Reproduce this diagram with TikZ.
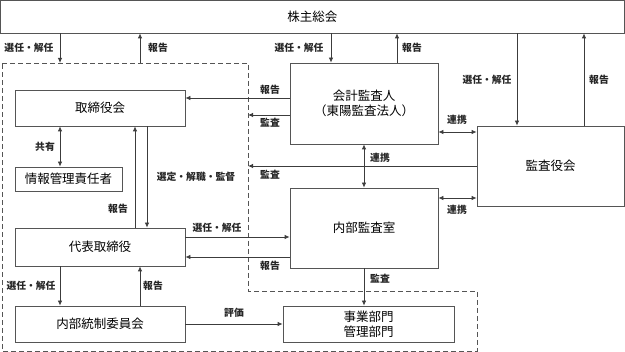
\documentclass[tikz,border=0pt]{standalone}
\usepackage{fontspec}
\setmainfont{Noto Sans CJK JP}
\usetikzlibrary{arrows.meta,positioning,calc}
\definecolor{boxline}{RGB}{85,85,85}
\definecolor{conn}{RGB}{60,60,60}

\begin{document}
\begin{tikzpicture}[x=1pt,y=-1pt,font=\fontsize{12.5}{15}\selectfont,
  b/.style={draw=boxline,line width=0.8pt,inner sep=0pt,align=center},
  arr/.style={draw=conn,line width=0.8pt,-{Latex[length=5pt,width=4.5pt]}},
  darr/.style={draw=conn,line width=0.8pt,{Latex[length=5pt,width=4.5pt]}-{Latex[length=5pt,width=4.5pt]}},
  lb/.style={font=\fontsize{9.8}{11}\selectfont\bfseries,text=black!85,inner sep=1pt}]
\useasboundingbox (0,0) rectangle (625,352);
% dashed area of the company
\coordinate (d1) at (2,63); \coordinate (d2) at (248,63); \coordinate (d3) at (248,291);
\coordinate (d4) at (477,291); \coordinate (d5) at (477,351); \coordinate (d6) at (2,351);
\draw[boxline,line width=0.8pt,dash pattern=on 5pt off 3pt] (d1) -- (d2) -- (d3) -- (d4) -- (d5) -- (d6) -- cycle;
% boxes
\node[b,minimum width=623.5pt,minimum height=32.5pt] (kabu) at (312.25,16.75) {株主総会};
\node[b,minimum width=170pt,minimum height=36pt] (tori) at (100,108) {取締役会};
\node[b,minimum width=107pt,minimum height=24pt] (joho) at (68.5,179) {情報管理責任者};
\node[b,minimum width=170pt,minimum height=38pt] (daihyo) at (100,247) {代表取締役};
\node[b,minimum width=170pt,minimum height=36pt] (tosei) at (100,324) {内部統制委員会};
\node[b,minimum width=171pt,minimum height=36pt] (jigyo) at (368.5,324) {事業部門\\管理部門};
\node[b,minimum width=148pt,minimum height=81pt] (kaikei) at (364,103.5) {会計監査人\\（東陽監査法人）};
\node[b,minimum width=147pt,minimum height=80pt] (kansa) at (550.5,166) {監査役会};
\node[b,minimum width=148pt,minimum height=80pt] (naibu) at (364,228) {内部監査室};
% columns for the vertical connectors
\coordinate (xa) at (60,0); \coordinate (xb) at (140,0); \coordinate (xc) at (135,0);
\coordinate (xd) at (147,0); \coordinate (xe) at (331,0); \coordinate (xf) at (397,0);
\coordinate (xg) at (517,0); \coordinate (xh) at (584,0); \coordinate (xi) at (364,0);
% rows for the horizontal connectors
\coordinate (ya) at (0,98); \coordinate (yb) at (0,115); \coordinate (yc) at (0,166);
\coordinate (yd) at (0,132); \coordinate (ye) at (0,198); \coordinate (yf) at (0,237);
\coordinate (yg) at (0,257);
% shareholders
\draw[arr] (kabu.south -| xa) -- (d1 -| xa);
\draw[arr] (d1 -| xb) -- (kabu.south -| xb);
\draw[arr] (kabu.south -| xe) -- (kaikei.north -| xe);
\draw[arr] (kaikei.north -| xf) -- (kabu.south -| xf);
\draw[arr] (kabu.south -| xg) -- (kansa.north -| xg);
\draw[arr] (kansa.north -| xh) -- (kabu.south -| xh);
% inside the company
\draw[darr] (tori.south -| xa) -- (joho.north -| xa);
\draw[arr] (daihyo.north -| xc) -- (tori.south -| xc);
\draw[arr] (tori.south -| xd) -- (daihyo.north -| xd);
\draw[arr] (daihyo.south -| xa) -- (tosei.north -| xa);
\draw[arr] (tosei.north -| xb) -- (daihyo.south -| xb);
\draw[arr] (daihyo.east |- yf) -- (naibu.west |- yf);
\draw[arr] (naibu.west |- yg) -- (daihyo.east |- yg);
\draw[arr] (tosei.east) -- (jigyo.west);
% audit
\draw[arr] (kaikei.west |- ya) -- (tori.east |- ya);
\draw[arr] (kaikei.west |- yb) -- (d2 |- yb);
\draw[arr] (kansa.west |- yc) -- (d2 |- yc);
\draw[darr] (kaikei.east |- yd) -- (kansa.west |- yd);
\draw[darr] (naibu.east |- ye) -- (kansa.west |- ye);
\draw[darr] (kaikei.south -| xi) -- (naibu.north -| xi);
\draw[arr] (naibu.south -| xi) -- (jigyo.north -| xi);
% labels
\node[lb] (l1) at (29,48) {選任・解任};
\node[lb] (l2) at (158,48) {報告};
\node[lb] (l3) at (299,48) {選任・解任};
\node[lb] (l4) at (412,48) {報告};
\node[lb] (l5) at (487,80) {選任・解任};
\node[lb] (l6) at (599,80) {報告};
\node[lb] (l7) at (270,90) {報告};
\node[lb] (l8) at (270,123) {監査};
\node[lb] (l9) at (270,175) {監査};
\node[lb] (l10) at (45,147) {共有};
\node[lb] (l11) at (196,177) {選定・解職・監督};
\node[lb] (l12) at (118,209) {報告};
\node[lb] (l13) at (217,228) {選任・解任};
\node[lb] (l14) at (270,266) {報告};
\node[lb] (l15) at (31,286) {選任・解任};
\node[lb] (l16) at (153,286) {報告};
\node[lb] (l17) at (234,313) {評価};
\node[lb] (l18) at (457,120) {連携};
\node[lb] (l19) at (457,210) {連携};
\node[lb] (l20) at (380,158) {連携};
\node[lb] (l21) at (380,279) {監査};
\end{tikzpicture}
\end{document}
